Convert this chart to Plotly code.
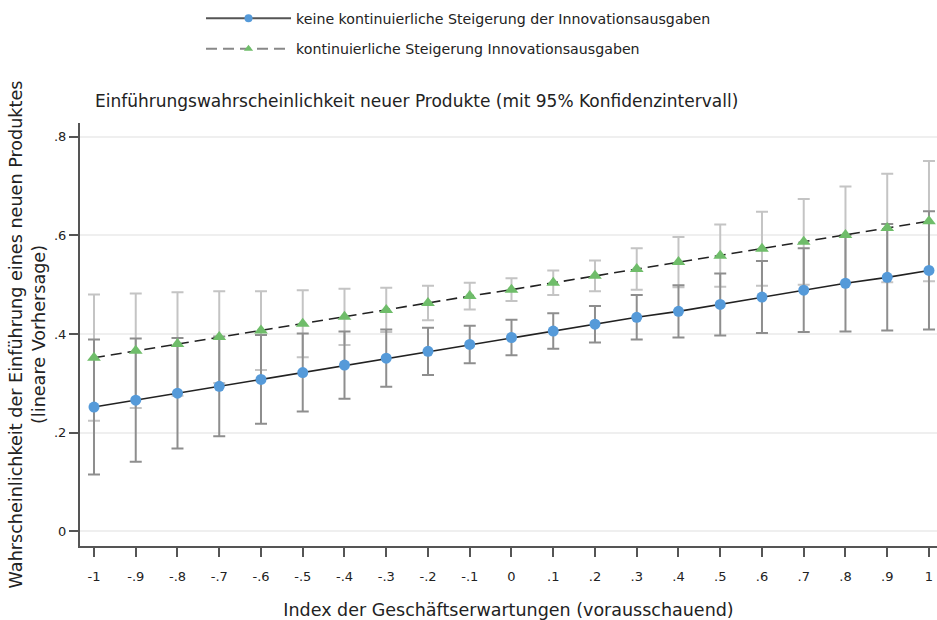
import plotly.graph_objects as go

# ---- data ----
x_vals = [-1, -0.9, -0.8, -0.7, -0.6, -0.5, -0.4, -0.3, -0.2, -0.1, 0,
          0.1, 0.2, 0.3, 0.4, 0.5, 0.6, 0.7, 0.8, 0.9, 1]
x_ticktext = ["-1", "-.9", "-.8", "-.7", "-.6", "-.5", "-.4", "-.3", "-.2", "-.1", "0",
              ".1", ".2", ".3", ".4", ".5", ".6", ".7", ".8", ".9", "1"]

# keine kontinuierliche Steigerung
blue_y = [0.252, 0.266, 0.280, 0.294, 0.308, 0.322, 0.337, 0.351, 0.365, 0.379, 0.393,
          0.406, 0.420, 0.434, 0.446, 0.460, 0.475, 0.489, 0.503, 0.515, 0.529]
blue_ci = [0.137, 0.125, 0.112, 0.101, 0.090, 0.079, 0.068, 0.058, 0.048, 0.038, 0.036,
           0.036, 0.037, 0.045, 0.053, 0.063, 0.073, 0.085, 0.098, 0.108, 0.120]

# kontinuierliche Steigerung
green_y = [0.352, 0.366, 0.380, 0.394, 0.407, 0.421, 0.435, 0.449, 0.463, 0.477, 0.490,
           0.504, 0.518, 0.532, 0.546, 0.559, 0.573, 0.587, 0.601, 0.615, 0.629]
green_ci = [0.128, 0.116, 0.105, 0.093, 0.080, 0.068, 0.057, 0.045, 0.035, 0.027, 0.023,
            0.025, 0.031, 0.042, 0.051, 0.063, 0.075, 0.087, 0.098, 0.110, 0.122]

y_tickvals = [0, 0.2, 0.4, 0.6, 0.8]
y_ticktext = ["0", ".2", ".4", ".6", ".8"]

name_blue = "keine kontinuierliche Steigerung der Innovationsausgaben"
name_green = "kontinuierliche Steigerung Innovationsausgaben"

FONT = "DejaVu Sans"
TXT = "#222222"
BLUE = "#559ad9"
GREEN = "#6fbd6a"
DASH = "11px,6px"

fig = go.Figure()

# confidence intervals (green first, blue on top)
fig.add_trace(go.Scatter(
    x=x_vals, y=green_y, mode="markers",
    marker=dict(size=1, color="rgba(0,0,0,0)"),
    error_y=dict(type="data", array=green_ci, visible=True,
                 color="#c4c4c4", thickness=2, width=6),
    showlegend=False, hoverinfo="skip"))
fig.add_trace(go.Scatter(
    x=x_vals, y=blue_y, mode="markers",
    marker=dict(size=1, color="rgba(0,0,0,0)"),
    error_y=dict(type="data", array=blue_ci, visible=True,
                 color="#8e8e8e", thickness=2, width=6),
    showlegend=False, hoverinfo="skip"))

# lines with markers
fig.add_trace(go.Scatter(
    x=x_vals, y=green_y, mode="lines+markers",
    line=dict(color="#222222", width=1.6, dash=DASH),
    marker=dict(symbol="triangle-up", size=12, color=GREEN),
    showlegend=False))
fig.add_trace(go.Scatter(
    x=x_vals, y=blue_y, mode="lines+markers",
    line=dict(color="#222222", width=1.6),
    marker=dict(symbol="circle", size=11, color=BLUE),
    showlegend=False))

# legend entries
fig.add_trace(go.Scatter(
    x=[None], y=[None], mode="lines+markers", name=name_blue,
    line=dict(color="#555555", width=2),
    marker=dict(symbol="circle", size=8, color=BLUE),
    legendgroup="a", legendrank=1))
fig.add_trace(go.Scatter(
    x=[None], y=[None], mode="lines+markers", name=name_green,
    line=dict(color="#888888", width=2, dash=DASH),
    marker=dict(symbol="triangle-up", size=8, color=GREEN),
    legendgroup="b", legendrank=2))

fig.update_layout(
    width=937, height=620,
    margin=dict(l=80, r=0, t=123, b=74, autoexpand=False),
    paper_bgcolor="white", plot_bgcolor="white",
    font=dict(family=FONT, color=TXT, size=15),
    showlegend=True,
    legend=dict(x=0.1412, y=1.285, xanchor="left", yanchor="top",
                orientation="v", itemwidth=85, tracegroupgap=9,
                font=dict(size=14.2, family=FONT, color=TXT),
                bgcolor="rgba(0,0,0,0)"),
    annotations=[dict(
        text="Einführungswahrscheinlichkeit neuer Produkte (mit 95% Konfidenzintervall)",
        xref="paper", yref="paper", x=0.0155, y=1.0513,
        xanchor="left", yanchor="middle", showarrow=False,
        font=dict(size=17, family=FONT, color=TXT))],
)

fig.update_xaxes(
    range=[-1.0335, 1.0192], automargin=False,
    tickmode="array", tickvals=x_vals, ticktext=x_ticktext,
    ticks="outside", ticklen=9, tickwidth=1.5, tickcolor="#555555",
    ticklabelstandoff=8,
    showline=True, linecolor="#555555", linewidth=2,
    showgrid=False, zeroline=False,
    tickfont=dict(size=13, family=FONT, color=TXT),
    title=dict(text="Index der Geschäftserwartungen (vorausschauend)",
               font=dict(size=17.5, family=FONT, color=TXT), standoff=28),
)
fig.update_yaxes(
    range=[-0.0298, 0.828], automargin=False,
    tickmode="array", tickvals=y_tickvals, ticktext=y_ticktext,
    ticks="outside", ticklen=9, tickwidth=1.5, tickcolor="#555555",
    showline=True, linecolor="#555555", linewidth=2,
    showgrid=True, gridcolor="#efefef", gridwidth=2, zeroline=False,
    tickfont=dict(size=13, family=FONT, color=TXT),
    title=dict(text="Wahrscheinlichkeit der Einführung eines neuen Produktes<br>(lineare Vorhersage)",
               font=dict(size=17.6, family=FONT, color=TXT), standoff=4),
)

fig.write_html(
    "out.html",
    config={"displayModeBar": False},
    post_script="document.body.style.margin='0';document.documentElement.style.overflow='hidden';",
)
